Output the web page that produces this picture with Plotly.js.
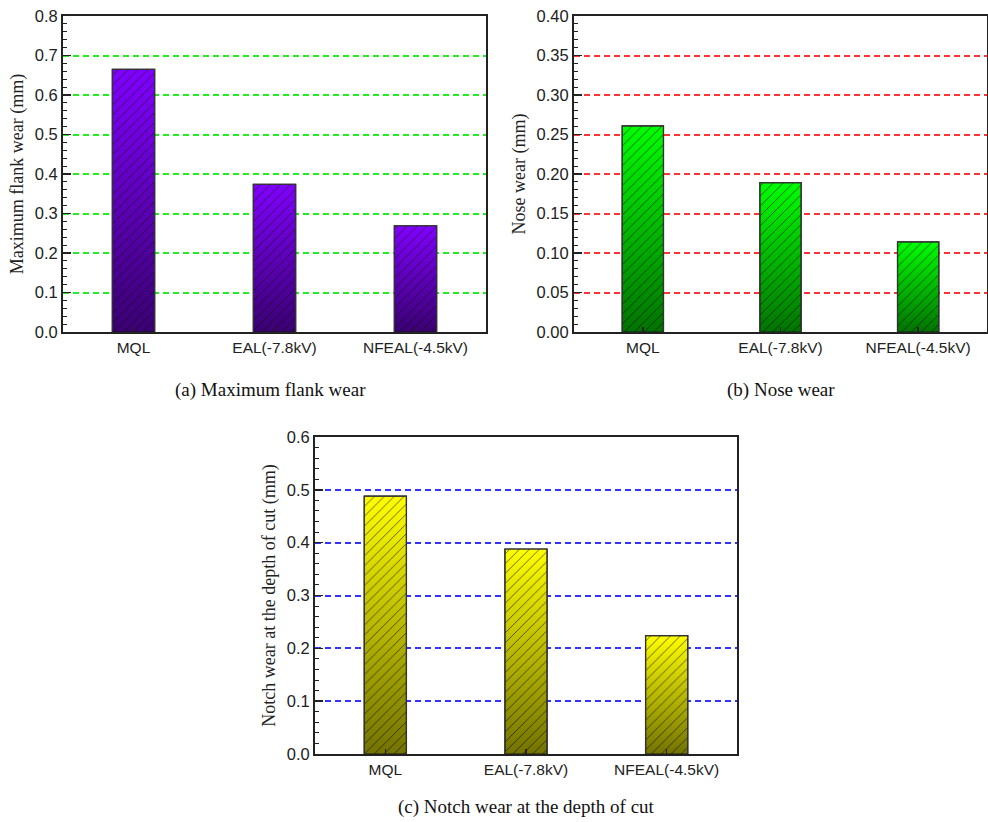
<!DOCTYPE html>
<html>
<head>
<meta charset="utf-8">
<script src="https://cdn.plot.ly/plotly-3.0.1.min.js"></script>
<style>html,body{margin:0;padding:0;background:#fff;}#chart{width:988px;height:822px;}</style>
</head>
<body>
<div id="chart"></div>
<script>
// ---- data ----
const categories = ["MQL", "EAL(-7.8kV)", "NFEAL(-4.5kV)"];
const flankWear = [0.665, 0.374, 0.269];
const noseWear = [0.261, 0.189, 0.114];
const notchWear = [0.488, 0.388, 0.224];
const captions = ["(a) Maximum flank wear", "(b) Nose wear", "(c) Notch wear at the depth of cut"];
const yTitles = ["Maximum flank wear (mm)", "Nose wear (mm)", "Notch wear at the depth of cut (mm)"];

// ---- styling ----
const W = 988, H = 822;
const BAR_W = 0.30;
const panels = [
  {vals: flankWear, color: "#8000ff", grid: "#22ee22", xa: "x", ya: "y", x: [63, 486], y: [16, 332], range: [0, 0.8], dtick: 0.1, nminor: 5, fmt: ".1f"},
  {vals: noseWear, color: "#00ff00", grid: "#ff3333", xa: "x2", ya: "y2", x: [574, 987], y: [16, 332], range: [0, 0.4], dtick: 0.05, nminor: 5, fmt: ".2f"},
  {vals: notchWear, color: "#ffff00", grid: "#3333ff", xa: "x3", ya: "y3", x: [315, 737], y: [437, 754], range: [0, 0.6], dtick: 0.1, nminor: 5, fmt: ".1f"}
];

const traces = [];
const layout = {
  width: W, height: H,
  margin: {l: 0, r: 0, t: 0, b: 0},
  paper_bgcolor: "#fff", plot_bgcolor: "#fff",
  showlegend: false,
  font: {family: "Liberation Sans, Arial, sans-serif", size: 15, color: "#222"},
  annotations: []
};

panels.forEach((p, k) => {
  const idx = [0, 1, 2];
  traces.push({
    type: "bar", x: idx, y: p.vals, xaxis: p.xa, yaxis: p.ya, width: BAR_W,
    marker: {
      color: p.color,
      line: {color: "#333", width: 1.2},
      pattern: {shape: "/", bgcolor: p.color, fgcolor: "#1a1a1a", size: 7, solidity: 0.12, fgopacity: 0.75}
    },
    hoverinfo: "x+y"
  });
  p.vals.forEach((v, i) => {
    traces.push({
      type: "scatter", mode: "lines", xaxis: p.xa, yaxis: p.ya,
      x: [i - BAR_W / 2, i + BAR_W / 2, i + BAR_W / 2, i - BAR_W / 2, i - BAR_W / 2],
      y: [0, 0, v, v, 0],
      fill: "toself",
      line: {width: 0, color: "rgba(0,0,0,0)"},
      fillgradient: {type: "vertical", colorscale: [[0, "rgba(0,0,0,0.55)"], [1, "rgba(0,0,0,0)"]]},
      hoverinfo: "skip"
    });
    traces.push({
      type: "scatter", mode: "lines", xaxis: p.xa, yaxis: p.ya,
      x: [i - BAR_W / 2, i - BAR_W / 2, i + BAR_W / 2, i + BAR_W / 2],
      y: [0, v, v, 0],
      line: {width: 1.2, color: "#333"},
      hoverinfo: "skip"
    });
  });
  const nMajor = Math.round((p.range[1] - p.range[0]) / p.dtick);
  const majorVals = [], minorVals = [];
  for (let j = 0; j <= nMajor; j++) {
    majorVals.push(+(j * p.dtick).toFixed(4));
    if (j < nMajor) for (let m = 1; m < p.nminor; m++) minorVals.push(+((j + m / p.nminor) * p.dtick).toFixed(5));
  }
  const suf = k === 0 ? "" : String(k + 1);
  layout["xaxis" + suf] = {
    domain: [p.x[0] / W, p.x[1] / W],
    anchor: "y" + suf,
    range: [-0.5, 2.5],
    tickmode: "array", tickvals: [0, 1, 2], ticktext: categories,
    ticks: "inside", ticklen: 5, tickwidth: 1.5, tickcolor: "#222",
    showline: true, linecolor: "#222", linewidth: 2, mirror: true,
    showgrid: false, zeroline: false,
    tickfont: {family: "Liberation Sans, Arial, sans-serif", size: 15.5, color: "#222"},
    fixedrange: true
  };
  layout["yaxis" + suf] = {
    domain: [1 - p.y[1] / H, 1 - p.y[0] / H],
    anchor: "x" + suf,
    range: p.range,
    tickmode: "array", tickvals: majorVals, ticktext: majorVals.map(v => v.toFixed(p.fmt === ".1f" ? 1 : 2)),
    ticks: "inside", ticklen: 8, tickwidth: 1.5, tickcolor: "#222",
    minor: {tickmode: "array", tickvals: minorVals, ticks: "inside", ticklen: 4, tickwidth: 1, tickcolor: "#222", showgrid: false},
    showline: true, linecolor: "#222", linewidth: 2, mirror: true,
    showgrid: true, gridcolor: p.grid, gridwidth: 2, griddash: "6px,4px",
    zeroline: false,
    tickfont: {family: "Liberation Sans, Arial, sans-serif", size: 16.5, color: "#222"},
    title: {text: yTitles[k], font: {family: "Liberation Serif, Times New Roman, serif", size: 18, color: "#222"}, standoff: 6},
    fixedrange: true
  };
});

const capPos = [[270, 390], [781, 390], [526, 807]];
captions.forEach((c, k) => {
  layout.annotations.push({
    text: c, xref: "paper", yref: "paper",
    x: capPos[k][0] / W, y: 1 - capPos[k][1] / H,
    xanchor: "center", yanchor: "middle", showarrow: false,
    font: {family: "Liberation Serif, Times New Roman, serif", size: 19, color: "#111"}
  });
});

Plotly.newPlot("chart", traces, layout, {displayModeBar: false, staticPlot: true});
</script>
</body>
</html>
